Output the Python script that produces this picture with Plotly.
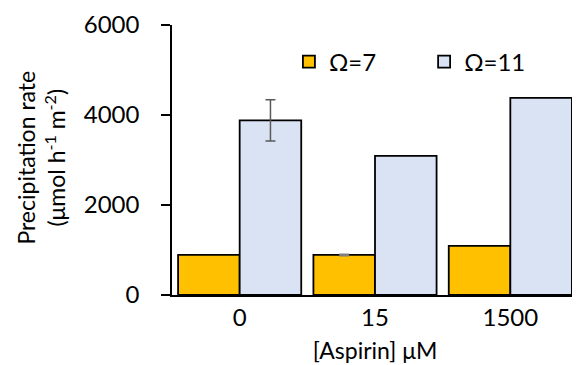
import plotly.graph_objects as go

categories = ["0", "15", "1500"]
omega7 = [890, 890, 1090]
omega7_err = [None, 15, None]
omega11 = [3880, 3090, 4380]
omega11_err = [460, None, None]

FONT = "Lato"


def only_with_err(vals, errs):
    return [v if e is not None else None for v, e in zip(vals, errs)]


fig = go.Figure()
fig.add_trace(go.Bar(
    x=categories, y=omega7, name="Ω=7", offsetgroup="a", legend="legend",
    marker=dict(color="#FFC000", line=dict(color="black", width=1.8)),
))
fig.add_trace(go.Bar(
    x=categories, y=omega11, name="Ω=11", offsetgroup="b", legend="legend2",
    marker=dict(color="#DAE3F3", line=dict(color="black", width=1.8)),
))
# error bars only where the reference shows them
fig.add_trace(go.Bar(
    x=categories, y=only_with_err(omega7, omega7_err), offsetgroup="a", showlegend=False,
    marker=dict(color="rgba(0,0,0,0)", line=dict(width=0)), hoverinfo="skip",
    error_y=dict(type="data", array=[e or 0 for e in omega7_err], color="#7f7f7f",
                 thickness=1.5, width=5, visible=True),
))
fig.add_trace(go.Bar(
    x=categories, y=only_with_err(omega11, omega11_err), offsetgroup="b", showlegend=False,
    marker=dict(color="rgba(0,0,0,0)", line=dict(width=0)), hoverinfo="skip",
    error_y=dict(type="data", array=[e or 0 for e in omega11_err], color="#595959",
                 thickness=1.5, width=5, visible=True),
))

leg_common = dict(orientation="h", y=0.863, xanchor="left", yanchor="middle",
                  font=dict(size=24), itemwidth=30, bgcolor="rgba(0,0,0,0)")

fig.update_layout(
    width=572, height=357,
    margin=dict(l=164, r=2, t=17, b=70),
    paper_bgcolor="white", plot_bgcolor="white",
    barmode="group", bargap=0.09, bargroupgap=0,
    font=dict(family=FONT, size=24, color="black"),
    legend=dict(x=0.288, **leg_common),
    legend2=dict(x=0.621, **leg_common),
    xaxis=dict(showline=True, linecolor="black", linewidth=1.5, ticks="",
               tickfont=dict(size=24),
               title=dict(text="[Aspirin] μM", standoff=13, font=dict(size=23))),
    yaxis=dict(range=[0, 6000], tickvals=[0, 2000, 4000, 6000], showgrid=False,
               showline=True, linecolor="black", linewidth=1.5,
               ticks="outside", ticklen=9, tickwidth=1.5, tickcolor="black",
               ticklabelstandoff=17,
               zeroline=False, tickfont=dict(size=24)),
    annotations=[dict(
        text="Precipitation rate<br>(μmol h<sup>-1</sup> m<sup>-2</sup>)",
        xref="paper", yref="paper", x=-0.3214, y=0.507,
        xanchor="center", yanchor="middle", textangle=-90, showarrow=False,
        font=dict(size=23, family=FONT, color="black"),
    )],
)

fig.write_html("out.html")
